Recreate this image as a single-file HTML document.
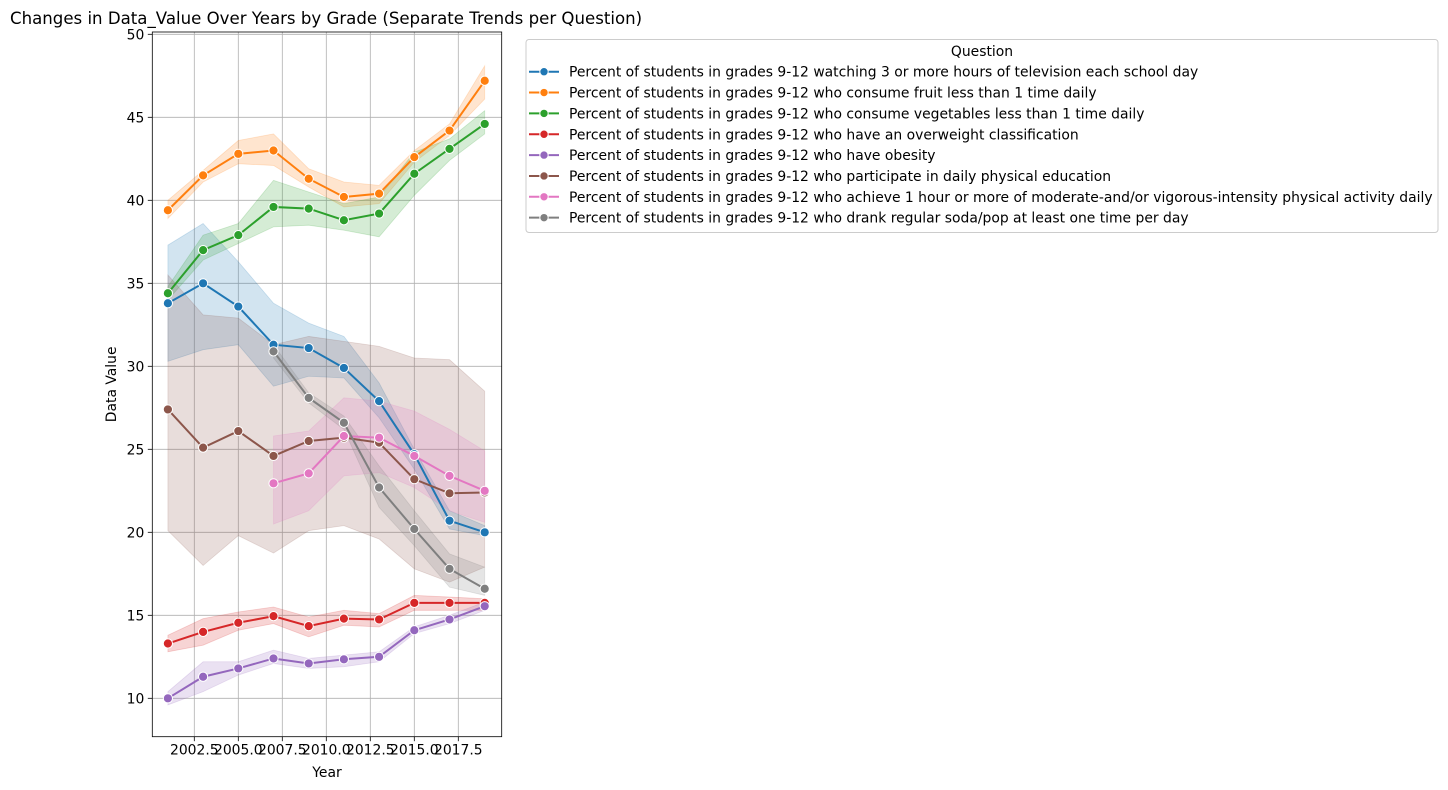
<!DOCTYPE html>
<html><head><meta charset="utf-8"><style>
html,body{margin:0;padding:0;background:#fff;}
svg{display:block;font-family:"DejaVu Sans","Liberation Sans",sans-serif;}
</style></head><body>
<svg id="chart" width="1448" height="790" viewBox="0 0 1448 790" xmlns="http://www.w3.org/2000/svg">
<text x="10" y="24" font-size="16.6" fill="#000">Changes in Data_Value Over Years by Grade (Separate Trends per Question)</text>
<g id="grid"></g>
<g id="bands"></g>
<g id="lines"></g>
<g id="axes"></g>
<g id="legend"></g>
</svg>
<script>
const years = [2001,2003,2005,2007,2009,2011,2013,2015,2017,2019];
const xTicks = [2002.5,2005.0,2007.5,2010.0,2012.5,2015.0,2017.5];
const xTickLabels = ["2002.5","2005.0","2007.5","2010.0","2012.5","2015.0","2017.5"];
const yTicks = [10,15,20,25,30,35,40,45,50];
const names = [
"Percent of students in grades 9-12 watching 3 or more hours of television each school day",
"Percent of students in grades 9-12 who consume fruit less than 1 time daily",
"Percent of students in grades 9-12 who consume vegetables less than 1 time daily",
"Percent of students in grades 9-12 who have an overweight classification",
"Percent of students in grades 9-12 who have obesity",
"Percent of students in grades 9-12 who participate in daily physical education",
"Percent of students in grades 9-12 who achieve 1 hour or more of moderate-and/or vigorous-intensity physical activity daily",
"Percent of students in grades 9-12 who drank regular soda/pop at least one time per day"];
const colors = ["#1f77b4","#ff7f0e","#2ca02c","#d62728","#9467bd","#8c564b","#e377c2","#7f7f7f"];
const tvVals = [33.8,35.0,33.6,31.3,31.1,29.9,27.9,24.7,20.7,20.0];
const tvLo = [30.3,31.0,31.3,28.8,29.4,29.3,26.9,23.8,20.2,19.8];
const tvHi = [37.3,38.6,36.3,33.8,32.6,31.8,29.0,25.0,21.3,20.4];
const fruitVals = [39.4,41.5,42.8,43.0,41.3,40.2,40.4,42.6,44.2,47.2];
const fruitLo = [38.9,41.1,42.2,42.1,40.8,39.6,39.8,42.3,43.9,46.1];
const fruitHi = [40.0,41.8,43.6,44.0,41.9,41.1,40.9,43.0,44.6,48.1];
const vegVals = [34.4,37.0,37.9,39.6,39.5,38.8,39.2,41.6,43.1,44.6];
const vegLo = [34.0,36.4,37.4,38.4,38.5,38.2,37.8,40.3,42.4,44.0];
const vegHi = [34.8,37.9,38.6,41.2,40.5,39.8,40.2,42.9,43.7,45.4];
const owVals = [13.3,14.0,14.55,14.95,14.35,14.8,14.75,15.75,15.75,15.75];
const owLo = [12.8,13.2,14.1,14.5,13.7,14.4,14.3,15.3,15.3,15.3];
const owHi = [13.8,14.8,15.2,15.5,14.9,15.3,15.1,16.2,16.1,16.0];
const obVals = [10.0,11.3,11.8,12.4,12.1,12.35,12.5,14.1,14.75,15.55];
const obLo = [9.6,10.4,11.4,12.1,11.8,11.9,12.2,13.9,14.5,15.3];
const obHi = [10.4,12.2,12.2,12.9,12.4,12.6,12.8,14.3,15.0,15.8];
const peVals = [27.4,25.1,26.1,24.6,25.5,25.7,25.4,23.2,22.35,22.4];
const peLo = [20.1,18.0,19.8,18.75,20.1,20.4,19.6,17.8,17.0,17.9];
const peHi = [35.5,33.1,32.9,31.3,31.8,31.5,31.2,30.5,30.4,28.5];
const paVals = [null,null,null,22.95,23.55,25.8,25.7,24.6,23.4,22.5];
const paLo = [null,null,null,20.5,21.3,23.4,23.6,22.7,21.3,20.6];
const paHi = [null,null,null,25.8,26.1,28.1,27.9,27.3,26.2,24.9];
const sodaVals = [null,null,null,30.9,28.1,26.6,22.7,20.2,17.8,16.6];
const sodaLo = [null,null,null,30.5,27.8,26.2,21.5,19.2,16.7,16.2];
const sodaHi = [null,null,null,31.3,28.4,27.0,24.0,21.3,18.7,17.9];
const seriesVals=[tvVals,fruitVals,vegVals,owVals,obVals,peVals,paVals,sodaVals];
const seriesLo=[tvLo,fruitLo,vegLo,owLo,obLo,peLo,paLo,sodaLo];
const seriesHi=[tvHi,fruitHi,vegHi,owHi,obHi,peHi,paHi,sodaHi];
const slugs=["tv","fruit","vegetables","overweight","obesity","daily-pe","physical-activity","soda"];

const L=152.3,R=501.7,T=32,B=736.7;
const X0=2001,X1=2019,PX0=167.9,PX1=484.7;
const x=v=>PX0+(v-X0)*(PX1-PX0)/(X1-X0);
const y=v=>698.3-(v-10)*16.6;
const FS=13.9;
const NS="http://www.w3.org/2000/svg";
function mk(tag,attrs,parent){const e=document.createElementNS(NS,tag);for(const k in attrs)e.setAttribute(k,attrs[k]);parent.appendChild(e);return e;}
const grid=document.getElementById('grid'),bands=document.getElementById('bands'),lines=document.getElementById('lines'),axes=document.getElementById('axes'),legend=document.getElementById('legend');

xTicks.forEach((t,i)=>{
 const g=mk('line',{x1:x(t),x2:x(t),y1:T,y2:B,stroke:'#b0b0b0','stroke-width':0.8},grid);
 
 
 const tk=mk('line',{x1:x(t),x2:x(t),y1:B,y2:B+4.5,stroke:'#000','stroke-width':0.8},axes);
 
 
 const tl=mk('text',{x:x(t),y:B+18,'font-size':FS,'text-anchor':'middle',fill:'#000'},axes);
 
 
 tl.textContent=xTickLabels[i];
});
yTicks.forEach(t=>{
 const g=mk('line',{x1:L,x2:R,y1:y(t),y2:y(t),stroke:'#b0b0b0','stroke-width':0.8},grid);
 
 
 const tk=mk('line',{x1:L-4.5,x2:L,y1:y(t),y2:y(t),stroke:'#000','stroke-width':0.8},axes);
 
 
 const tl=mk('text',{x:L-8,y:y(t)+5,'font-size':FS,'text-anchor':'end',fill:'#000'},axes);
 
 
 tl.textContent=String(t);
});
const fr=mk('rect',{x:L,y:T,width:R-L,height:B-T,fill:'none',stroke:'#000','stroke-width':0.8},axes);


const xt=mk('text',{x:(L+R)/2,y:777,'font-size':FS,'text-anchor':'middle',fill:'#000'},axes);


xt.textContent='Year';
const yt=mk('text',{x:0,y:0,'font-size':FS,'text-anchor':'middle',fill:'#000',transform:`translate(116,${(T+B)/2}) rotate(-90)`},axes);


yt.textContent='Data Value';

seriesVals.forEach((vals,s)=>{
 const idx=years.map((_,i)=>i).filter(i=>vals[i]!==null);
 const up=idx.map(i=>`${x(years[i])},${y(seriesHi[s][i])}`);
 const lo=idx.slice().reverse().map(i=>`${x(years[i])},${y(seriesLo[s][i])}`);
 const b=mk('polygon',{points:up.concat(lo).join(' '),fill:colors[s],'fill-opacity':0.2,stroke:colors[s],'stroke-opacity':0.2,'stroke-width':0.8},bands);
 
 
});
seriesVals.forEach((vals,s)=>{
 const idx=years.map((_,i)=>i).filter(i=>vals[i]!==null);
 const g=mk('g',{},lines);
 
 
 const pl=mk('polyline',{points:idx.map(i=>`${x(years[i])},${y(vals[i])}`).join(' '),fill:'none',stroke:colors[s],'stroke-width':2},g);
 
 
 idx.forEach(i=>{
  const c=mk('circle',{cx:x(years[i]),cy:y(vals[i]),r:4.6,fill:colors[s],stroke:'#fff','stroke-width':1},g);
  
  
 });
});

const lb=mk('rect',{x:526,y:39.5,width:912,height:193,rx:3,fill:'#fff','fill-opacity':0.8,stroke:'#ccc','stroke-width':1},legend);


const lt=mk('text',{x:982,y:56,'font-size':FS,'text-anchor':'middle',fill:'#000'},legend);


lt.textContent='Question';
names.forEach((n,s)=>{
 const yy=71.7+s*20.85;
 const g=mk('g',{},legend);
 
 
 mk('line',{x1:529,x2:559,y1:yy,y2:yy,stroke:colors[s],'stroke-width':2},g);
 mk('circle',{cx:544,cy:yy,r:4.2,fill:colors[s],stroke:'#fff','stroke-width':1},g);
 const t=mk('text',{x:569,y:yy+5,'font-size':FS,fill:'#000'},g);
 t.textContent=n;
});
</script>
</body></html>
